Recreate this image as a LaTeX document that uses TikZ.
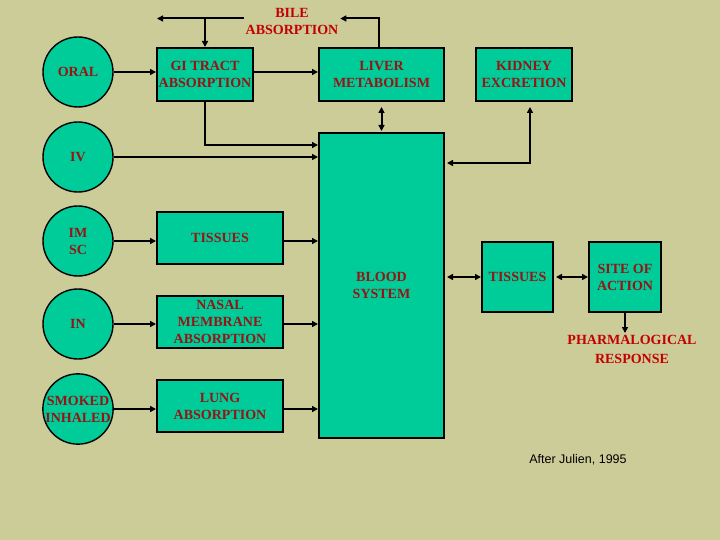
\documentclass[tikz,border=0pt]{standalone}
\usepackage{fontspec}
\setmainfont{Liberation Serif}
\newfontfamily\capfont{Liberation Sans}
\usepackage{xcolor}
\definecolor{mybg}{RGB}{204,204,153}
\definecolor{mygreen}{RGB}{0,204,153}
\definecolor{mydark}{RGB}{150,20,20}
\definecolor{myred}{RGB}{195,0,0}
\usetikzlibrary{arrows.meta}
\begin{document}
\begin{tikzpicture}[x=1pt,y=-1pt,line width=2pt,
	font=\fontsize{14}{17}\selectfont\bfseries]
	\tikzstyle{src}=[circle,draw,fill=mygreen,line width=1.4pt,minimum size=70pt,inner sep=0pt,text=mydark,align=center];
	\tikzstyle{box}=[rectangle,draw,fill=mygreen,line width=2pt,inner sep=0pt,text=mydark,align=center];
	\tikzstyle{free}=[text=myred,align=center,inner sep=1pt];
	\tikzstyle{arr}=[-{Triangle[length=6pt,width=6pt]}];
	\tikzstyle{dbl}=[{Triangle[length=6pt,width=6pt]}-{Triangle[length=6pt,width=6pt]}];
	\fill[mybg] (0,0) rectangle (720,540);
	\node[src] (oral) at (78,72) {ORAL};
	\node[src] (iv) at (78,157) {IV};
	\node[src] (imsc) at (78,241) {IM\\SC};
	\node[src] (in) at (78,324) {IN};
	\node[src] (smoke) at (78,409) {SMOKED\\INHALED};
	\node[box,minimum width=96pt,minimum height=53pt] (gi) at (205,74.5) {GI TRACT\\ABSORPTION};
	\node[box,minimum width=125pt,minimum height=53pt] (liver) at (381.5,74.5) {LIVER\\METABOLISM};
	\node[box,minimum width=96pt,minimum height=53pt] (kidney) at (524,74.5) {KIDNEY\\EXCRETION};
	\node[box,minimum width=125pt,minimum height=305pt] (blood) at (381.5,285.5) {BLOOD\\SYSTEM};
	\node[box,minimum width=126pt,minimum height=52pt] (tisl) at (220,238) {TISSUES};
	\node[box,minimum width=126pt,minimum height=52pt] (nasal) at (220,322) {NASAL\\MEMBRANE\\ABSORPTION};
	\node[box,minimum width=126pt,minimum height=52pt] (lung) at (220,406) {LUNG\\ABSORPTION};
	\node[box,minimum width=71pt,minimum height=70pt] (tisr) at (517.5,277) {TISSUES};
	\node[box,minimum width=72pt,minimum height=70pt] (site) at (625,277) {SITE OF\\ACTION};
	\node[free] (bile) at (292,21) {BILE\\ABSORPTION};
	\node[free,anchor=north,font=\fontsize{14}{19}\selectfont\bfseries] (resp) at (632,333) {PHARMALOGICAL\\RESPONSE};
	\node[font=\capfont\fontsize{12.5}{15}\selectfont] (ref) at (578,460) {After Julien, 1995};
	\coordinate (bl) at (157,18.5);
	\draw[arr] (bile.west |- bl) -- (bl);
	\draw[arr] (gi.north |- bl) -- (gi.north);
	\draw[arr] ([xshift=-2.5pt]liver.north) |- (bile.east |- bl);
	\draw[arr] (oral.east) -- (oral.east -| gi.west);
	\draw[arr] (oral.east -| gi.east) -- (oral.east -| liver.west);
	\draw[arr] (gi.south) |- (blood.west |- 0,145);
	\draw[arr] (iv.east) -- (iv.east -| blood.west);
	\draw[arr] (imsc.east) -- (imsc.east -| tisl.west);
	\draw[arr] (imsc.east -| tisl.east) -- (imsc.east -| blood.west);
	\draw[arr] (in.east) -- (in.east -| nasal.west);
	\draw[arr] (in.east -| nasal.east) -- (in.east -| blood.west);
	\draw[arr] (smoke.east) -- (smoke.east -| lung.west);
	\draw[arr] (smoke.east -| lung.east) -- (smoke.east -| blood.west);
	\draw[dbl,shorten <=5pt,shorten >=1pt] (liver.south) -- (blood.north);
	\draw[dbl,shorten <=2pt,shorten >=5pt] (blood.east |- 0,163) -| ([xshift=6pt]kidney.south);
	\draw[dbl,shorten <=2pt] (blood.east |- tisr) -- (tisr.west);
	\draw[dbl,shorten <=2pt] (tisr.east) -- (site.west);
	\draw[arr] (site.south) -- (site.south |- resp.north);
\end{tikzpicture}
\end{document}
